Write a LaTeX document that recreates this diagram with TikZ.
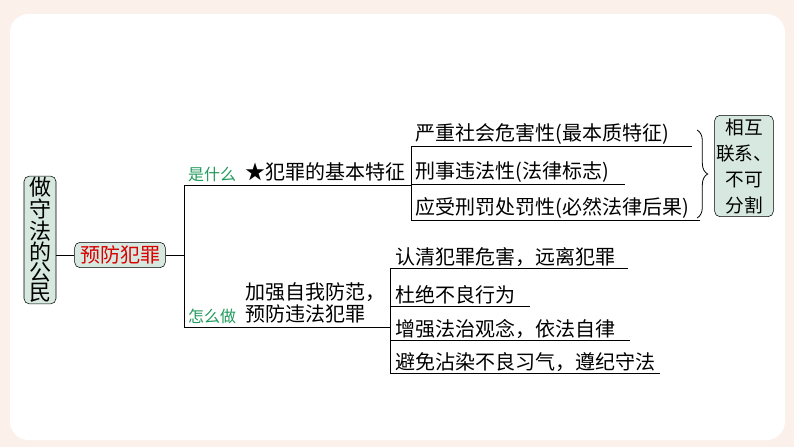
\documentclass[tikz,border=0pt]{standalone}
\usepackage{fontspec}
\setmainfont{Noto Sans CJK SC}
\usetikzlibrary{positioning,decorations.pathreplacing}
\definecolor{boxfill}{HTML}{D6E8E0}
\definecolor{labgreen}{HTML}{1E9A5A}
\definecolor{pagebg}{HTML}{FBF1EA}
\tikzset{
  mainbox/.style={draw, rounded corners=4pt, fill=boxfill, inner sep=1pt, align=center},
  itemtext/.style={anchor=south west, inner sep=1pt, font=\fontsize{15}{17}\selectfont},
  branchlab/.style={anchor=south, inner sep=1pt, text=labgreen, font=\fontsize{12}{14}\selectfont},
  tree/.style={line width=0.6pt}
}
\begin{document}
\begin{tikzpicture}[x=0.75pt, y=-0.75pt]
    % Background and card
    \fill[pagebg] (0,0) rectangle (794,447);
    \fill[white, rounded corners=14pt] (10,14) rectangle (785,440);

    % Root and main topic
    \node[mainbox, minimum width=24pt, minimum height=88pt, font=\fontsize{16.5}{15}\selectfont] (root) at (40,240) {做\\守\\法\\的\\公\\民};
    \node[mainbox, minimum width=68pt, minimum height=19pt, text=red!85!black, font=\fontsize{15}{17}\selectfont] (topic) at (120,255) {预防犯罪};
    \draw[tree] (root.east |- topic) -- (topic.west);
    \coordinate (split) at (184,255);
    \draw[tree] (topic.east) -- (split);
    \coordinate (top) at (184,185);
    \coordinate (bot) at (184,327);
    \draw[tree] (top) -- (bot);

    % What is it
    \coordinate (topend) at (411,185);
    \draw[tree] (top) -- (topend);
    \node[branchlab] (what) at (212,183) {是什么};
    \node[itemtext] (feat) at (244,183) {★犯罪的基本特征};
    \coordinate (f0) at (411,146);
    \coordinate (f3) at (411,220);
    \draw[tree] (f0) -- (f3);
    \foreach \y/\len/\txt [count=\i] in {146/692/严重社会危害性(最本质特征),
        184/625/刑事违法性(法律标志), 220/700/应受刑罚处罚性(必然法律后果)} {
      \node[itemtext] (feat\i) at (414,\y) {\txt};
      \draw[tree] (411,\y) -- (\len,\y);
    }
    \draw[decorate, decoration={brace, amplitude=8pt}, line width=0.6pt] (697,130) -- (697,218);
    \node[mainbox, minimum width=41pt, minimum height=76pt, font=\fontsize{14}{19.5}\selectfont] (link) at (744,166) {相互\\联系、\\不可\\分割};

    % How to do it
    \coordinate (botend) at (390,327);
    \draw[tree] (bot) -- (botend);
    \node[branchlab] (how) at (212,325) {怎么做};
    \node[itemtext, align=left, font=\fontsize{15}{17}\selectfont] (guard) at (244,325) {加强自我防范，\\预防违法犯罪};
    \coordinate (g0) at (390,268);
    \coordinate (g4) at (390,373);
    \draw[tree] (g0) -- (g4);
    \foreach \y/\len/\txt [count=\i] in {268/628/认清犯罪危害，远离犯罪, 306/530/杜绝不良行为,
        340/630/增强法治观念，依法自律, 373/660/避免沾染不良习气，遵纪守法} {
      \node[itemtext] (act\i) at (394,\y) {\txt};
      \draw[tree] (390,\y) -- (\len,\y);
    }
\end{tikzpicture}
\end{document}
